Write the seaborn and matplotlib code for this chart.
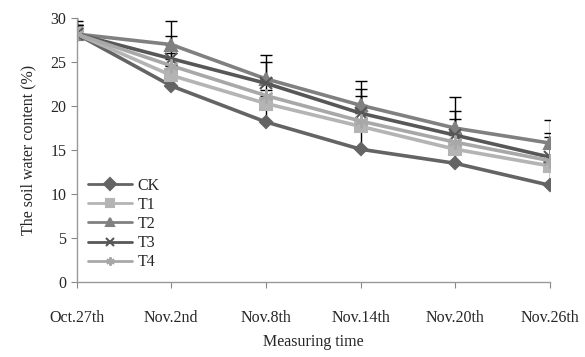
# -*- coding: utf-8 -*-

import matplotlib
matplotlib.use("Agg")
import matplotlib.pyplot as plt
import numpy as np
import pandas as pd
import seaborn as sns

# Data
dates = ["Oct.27th", "Nov.2nd", "Nov.8th", "Nov.14th", "Nov.20th", "Nov.26th"]
ck = [28.2, 22.3, 18.2, 15.1, 13.5, 11.0]
t1 = [28.2, 23.5, 20.3, 17.7, 15.1, 13.2]
t2 = [28.2, 27.0, 23.1, 20.1, 17.5, 15.8]
t3 = [28.2, 25.4, 22.6, 19.2, 16.7, 14.2]
t4 = [28.2, 24.6, 21.2, 18.3, 15.9, 13.8]
err_ck = [1.0, 1.0, 2.0, 2.5, 2.0, 2.0]
err_t1 = [1.0, 1.2, 1.5, 1.8, 1.9, 2.0]
err_t2 = [2.0, 2.7, 2.7, 2.8, 3.5, 2.6]
err_t3 = [1.5, 2.6, 2.4, 2.8, 2.8, 2.8]
err_t4 = [1.0, 1.5, 2.0, 2.9, 2.6, 2.7]

series = ["CK", "T1", "T2", "T3", "T4"]
values = [ck, t1, t2, t3, t4]
errors = [err_ck, err_t1, err_t2, err_t3, err_t4]
colors = {"CK": "#646464", "T1": "#b4b4b4", "T2": "#808080", "T3": "#575757", "T4": "#a8a8a8"}
markers = {"CK": "D", "T1": "s", "T2": "^", "T3": "x", "T4": (6, 2, 0)}
msizes = {"CK": 6, "T1": 9, "T2": 9, "T3": 9, "T4": 10}

# Reshape to Tidy data
df = pd.DataFrame({"date": dates * len(series),
                   "x": list(range(len(dates))) * len(series),
                   "series": [s for s in series for _ in dates],
                   "value": sum(values, [])})

sns.set_style("white")
plt.rcParams["font.family"] = ["Liberation Serif", "DejaVu Serif"]

fig = plt.figure(figsize=(5.85, 3.57), dpi=100)
ax = fig.add_axes([0.131, 0.21, 0.809, 0.739])

# Error bars (upper only), drawn under the lines so markers hide the lower caps
for s, v, e in zip(series, values, errors):
	ax.errorbar(range(len(dates)), v, yerr=[np.zeros(len(e)), e], fmt="none",
				ecolor="black", elinewidth=1.0, capsize=4, capthick=1.0, zorder=1)

for s, v, e in zip(series, values, errors):
	sub = df[df["series"] == s]
	sns.lineplot(data=sub, x="x", y="value", ax=ax, color=colors[s], linewidth=2.6,
				 marker=markers[s], markersize=msizes[s], markeredgecolor=colors[s],
				 markeredgewidth=1.5, label=s, zorder=2)

ax.set_xlim(0, len(dates) - 1)
ax.set_ylim(0, 30)
ax.set_yticks(range(0, 31, 5))
ax.set_xticks(range(len(dates)))
ax.set_xticklabels(dates)
ax.tick_params(axis="both", labelsize=11.5, direction="out", length=4, width=0.8,
			   color="#888888", left=True, bottom=True)
ax.tick_params(axis="x", pad=16)
for side in ["top", "right"]:
	ax.spines[side].set_visible(False)
for side in ["left", "bottom"]:
	ax.spines[side].set_color("#999999")
	ax.spines[side].set_linewidth(1.0)
ax.grid(False)

ax.set_xlabel("Measuring time", fontsize=11.5, labelpad=6)
ax.set_ylabel("The soil water content (%)", fontsize=11.5, labelpad=10)

leg = ax.legend(loc="lower left", bbox_to_anchor=(0.01, 0.02), frameon=False,
				fontsize=11.5, handlelength=2.8, handletextpad=0.3,
				labelspacing=0.2, borderaxespad=0)
for h in leg.legend_handles:
	h.set_linewidth(2.0)
	h.set_markersize(6)

plt.savefig("out.png", dpi=100)
plt.close("all")
